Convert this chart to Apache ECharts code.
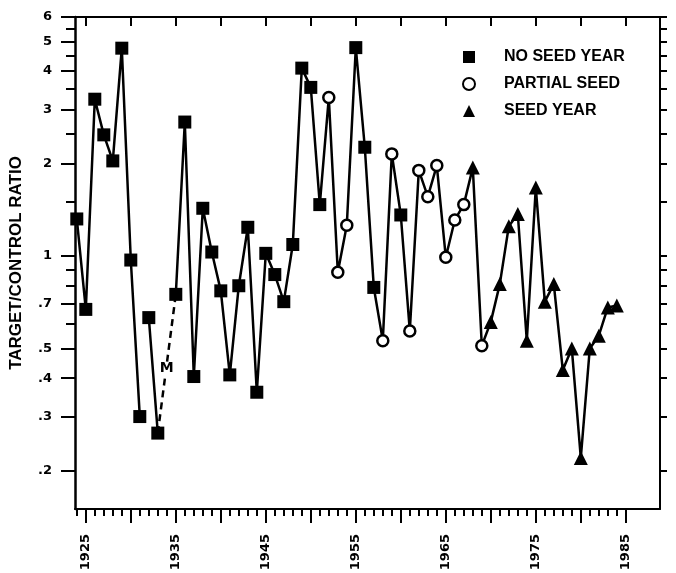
<!DOCTYPE html>
<html>
<head>
<meta charset="UTF-8">
<title>Target/Control Ratio</title>
<script src="https://cdn.jsdelivr.net/npm/echarts@6/dist/echarts.min.js"></script>
<style>
  html, body { margin: 0; padding: 0; background: #fff; }
  #chart { width: 676px; height: 573px; }
</style>
</head>
<body>
<div id="chart"></div>
<script>
// values (log ratio axis)
var years = [1924, 1925, 1926, 1927, 1928, 1929, 1930, 1931, 1932, 1933,
             1934, 1935, 1936, 1937, 1938, 1939, 1940, 1941, 1942, 1943,
             1944, 1945, 1946, 1947, 1948, 1949, 1950, 1951, 1952, 1953,
             1954, 1955, 1956, 1957, 1958, 1959, 1960, 1961, 1962, 1963,
             1964, 1965, 1966, 1967, 1968, 1969, 1970, 1971, 1972, 1973,
             1974, 1975, 1976, 1977, 1978, 1979, 1980, 1981, 1982, 1983, 1984];
var ratio = [1.32, 0.67, 3.24, 2.48, 2.04, 4.75, 0.97, 0.30, 0.63, 0.265,
             null, 0.75, 2.73, 0.405, 1.43, 1.03, 0.77, 0.41, 0.80, 1.24,
             0.36, 1.02, 0.87, 0.71, 1.09, 4.09, 3.54, 1.47, 3.28, 0.885,
             1.26, 4.77, 2.26, 0.79, 0.53, 2.15, 1.36, 0.57, 1.90, 1.56,
             1.97, 0.99, 1.31, 1.47, 1.94, 0.51, 0.61, 0.81, 1.25, 1.37,
             0.53, 1.67, 0.71, 0.81, 0.425, 0.50, 0.22, 0.50, 0.55, 0.68, 0.69];
// N = no seed year, P = partial seed, S = seed year, '' = missing
var yearType = ['N','N','N','N','N','N','N','N','N','N',
                '', 'N','N','N','N','N','N','N','N','N',
                'N','N','N','N','N','N','N','N','P','P',
                'P','N','N','N','P','P','N','P','P','P',
                'P','P','P','P','S','P','S','S','S','S',
                'S','S','S','S','S','S','S','S','S','S','S'];
var breakAfter = [1931];          // line is not drawn between 1931 and 1932
var legendNames = {N: 'NO SEED YEAR', P: 'PARTIAL SEED', S: 'SEED YEAR'};

var yLabelTicks = [6, 5, 4, 3, 2, 1, 0.7, 0.5, 0.4, 0.3, 0.2];
var yMinorTicks = [5.5, 4.5, 3.5, 2.5, 1.5, 0.9, 0.8, 0.6];
var xLabelYears = [1925, 1935, 1945, 1955, 1965, 1975, 1985];
var xMajorYears = [1925, 1930, 1935, 1940, 1945, 1950, 1955, 1960, 1965, 1970, 1975, 1980, 1985];
var xMinorYears = [];
for (var y = 1924; y <= 1985; y++) { if (y % 5 !== 0) xMinorYears.push(y); }

var missingMark = { text: 'M', at: 0.43 };   // label drawn on the dashed bridge

// build series data
var solid = [], dashed = [], missing = [];
var pts = { N: [], P: [], S: [] };
for (var i = 0; i < years.length; i++) {
    if (ratio[i] == null) {
        solid.push([years[i], '-']);
        dashed.push([years[i - 1], ratio[i - 1]], [years[i + 1], ratio[i + 1]]);
        missing.push([years[i], missingMark.at]);
        continue;
    }
    solid.push([years[i], ratio[i]]);
    pts[yearType[i]].push([years[i], ratio[i]]);
    if (breakAfter.indexOf(years[i]) >= 0) solid.push([years[i] + 0.5, '-']);
}

var black = '#000';
var fontNum = 'DejaVu Sans';
var fontTxt = 'Liberation Sans';

function fmtRatio(v) {
    var s = String(+v.toFixed(2));
    return v < 1 ? s.replace(/^0/, '') : s;
}

var myChart = echarts.init(document.getElementById('chart'));
var option = {
    animation: false,
    backgroundColor: '#fff',
    grid: { left: 75, right: 16, top: 17, bottom: 64, containLabel: false, outerBoundsMode: 'none' },
    legend: {
        data: [legendNames.N, legendNames.P, legendNames.S],
        orient: 'vertical',
        left: 457, top: 44,
        itemWidth: 12, itemHeight: 12, itemGap: 11,
        selectedMode: false,
        textStyle: { fontFamily: fontTxt, fontSize: 16, fontWeight: 'bold', color: black,
                     lineHeight: 16, padding: [0, 0, 0, 24] }
    },
    xAxis: [{
        type: 'value', position: 'bottom', min: 1923.8, max: 1988.8,
        axisLine: { show: true, lineStyle: { color: black, width: 2 } },
        axisTick: { show: true, customValues: xMinorYears, length: 7, lineStyle: { color: black, width: 2 } },
        axisLabel: { customValues: xLabelYears, rotate: 90, margin: 25,
                     formatter: function (v) { return String(v); },
                     fontFamily: fontNum, fontSize: 13, fontWeight: 'bold', color: black },
        splitLine: { show: false }
    }, {
        type: 'value', position: 'bottom', min: 1923.8, max: 1988.8,
        axisLine: { show: false },
        axisTick: { show: true, customValues: xMajorYears, length: 14, lineStyle: { color: black, width: 2 } },
        axisLabel: { show: false },
        splitLine: { show: false }
    }, {
        type: 'value', position: 'top', min: 1923.8, max: 1988.8,
        axisLine: { show: true, lineStyle: { color: black, width: 2 } },
        axisTick: { show: true, inside: true, customValues: xMajorYears, length: 9, lineStyle: { color: black, width: 2 } },
        axisLabel: { show: false },
        splitLine: { show: false }
    }],
    yAxis: [{
        type: 'log', logBase: 10, position: 'left', min: 0.15, max: 6.001,
        name: 'TARGET/CONTROL RATIO', nameLocation: 'middle', nameGap: 50, nameRotate: 90,
        nameTextStyle: { fontFamily: fontTxt, fontSize: 17, fontWeight: 'bold', color: black },
        axisLine: { show: true, lineStyle: { color: black, width: 2.5 } },
        axisTick: { show: true, customValues: yLabelTicks, length: 14, lineStyle: { color: black, width: 2 } },
        axisLabel: { customValues: yLabelTicks, margin: 23, formatter: fmtRatio,
                     fontFamily: fontNum, fontSize: 13, fontWeight: 'bold', color: black },
        splitLine: { show: false }
    }, {
        type: 'log', logBase: 10, position: 'left', min: 0.15, max: 6.001,
        axisLine: { show: false },
        axisTick: { show: true, customValues: yMinorTicks, length: 9, lineStyle: { color: black, width: 2 } },
        axisLabel: { show: false },
        splitLine: { show: false }
    }, {
        type: 'log', logBase: 10, position: 'right', min: 0.15, max: 6.001,
        axisLine: { show: true, lineStyle: { color: black, width: 2 } },
        axisTick: { show: true, customValues: yLabelTicks.concat(yMinorTicks), length: 7, lineStyle: { color: black, width: 2 } },
        axisLabel: { show: false },
        splitLine: { show: false }
    }],
    series: [{
        type: 'line', data: solid, symbol: 'none', connectNulls: false, z: 2,
        lineStyle: { color: black, width: 2.5 }
    }, {
        type: 'line', data: dashed, symbol: 'none', z: 2,
        lineStyle: { color: black, width: 2.5, type: [7, 5] }
    }, {
        type: 'scatter', data: missing, symbol: 'rect', symbolSize: [12, 13], z: 3,
        itemStyle: { color: '#fff', opacity: 1 },
        label: { show: true, position: 'inside', formatter: missingMark.text,
                 fontFamily: fontNum, fontSize: 14, fontWeight: 'bold', color: black }
    }, {
        name: legendNames.N, type: 'scatter', data: pts.N, symbol: 'rect', symbolSize: 13, z: 4,
        itemStyle: { color: black, opacity: 1 }
    }, {
        name: legendNames.P, type: 'scatter', data: pts.P, symbol: 'circle', symbolSize: 11, z: 4,
        itemStyle: { color: '#fff', borderColor: black, borderWidth: 2.5, opacity: 1 }
    }, {
        name: legendNames.S, type: 'scatter', data: pts.S, symbol: 'triangle', symbolSize: 14, z: 4,
        itemStyle: { color: black, opacity: 1 }
    }]
};
myChart.setOption(option);
</script>
</body>
</html>
